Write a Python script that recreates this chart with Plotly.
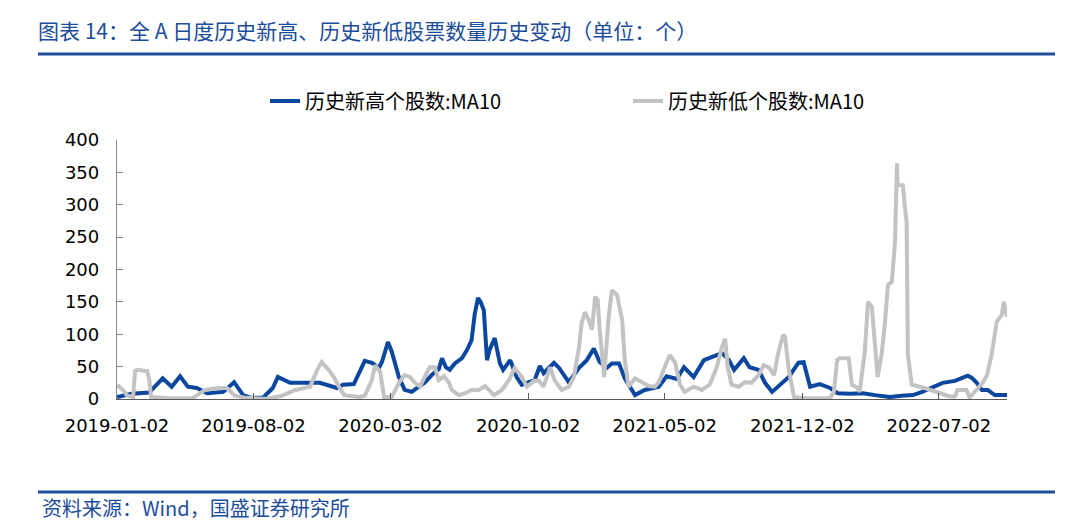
import plotly.graph_objects as go

# ---- data ----
high_dates = [
    "2019-01-02", "2019-01-25", "2019-02-21", "2019-03-14", "2019-03-28", "2019-04-10",
    "2019-04-22", "2019-05-06", "2019-05-22", "2019-06-16", "2019-07-03", "2019-07-17",
    "2019-07-28", "2019-08-17", "2019-09-01", "2019-09-09", "2019-09-28", "2019-10-24",
    "2019-11-13", "2019-12-10", "2019-12-19", "2020-01-05", "2020-01-22", "2020-02-02",
    "2020-02-13", "2020-02-18", "2020-02-27", "2020-03-04", "2020-03-15", "2020-03-24",
    "2020-04-04", "2020-04-15", "2020-04-24", "2020-05-05", "2020-05-16", "2020-05-21",
    "2020-05-27", "2020-06-02", "2020-06-10", "2020-06-21", "2020-06-29", "2020-07-06",
    "2020-07-11", "2020-07-16", "2020-07-20", "2020-07-25", "2020-07-30", "2020-08-03",
    "2020-08-11", "2020-08-19", "2020-08-24", "2020-09-04", "2020-09-14", "2020-09-22",
    "2020-10-05", "2020-10-12", "2020-10-20", "2020-10-26", "2020-11-11", "2020-11-19",
    "2020-12-04", "2020-12-20", "2021-01-01", "2021-01-12", "2021-01-21", "2021-02-01",
    "2021-02-09", "2021-02-20", "2021-03-01", "2021-03-17", "2021-04-01", "2021-04-17",
    "2021-04-23", "2021-05-05", "2021-05-21", "2021-06-01", "2021-06-16", "2021-07-02",
    "2021-07-14", "2021-07-30", "2021-08-10", "2021-08-18", "2021-09-02", "2021-09-11",
    "2021-09-25", "2021-10-05", "2021-10-16", "2021-10-28", "2021-11-11", "2021-11-26",
    "2021-12-04", "2021-12-14", "2021-12-29", "2022-01-14", "2022-01-26", "2022-02-14",
    "2022-03-06", "2022-03-25", "2022-04-17", "2022-05-05", "2022-05-23", "2022-06-06",
    "2022-06-26", "2022-07-08", "2022-07-27", "2022-08-16", "2022-08-22", "2022-08-30",
    "2022-09-07", "2022-09-16", "2022-09-27", "2022-10-16",
]
high_values = [
    3, 8, 10, 32, 19, 35,
    19, 17, 9, 11, 26, 6,
    2, 2, 17, 34, 25, 25,
    25, 17, 22, 23, 59, 56,
    48, 58, 88, 73, 34, 14,
    11, 19, 25, 37, 46, 63,
    49, 45, 55, 63, 76, 91,
    132, 156, 150, 137, 60, 76,
    94, 55, 45, 60, 34, 22,
    26, 29, 51, 40, 56, 48,
    26, 48, 60, 78, 57, 48,
    55, 55, 32, 6, 14, 17,
    19, 35, 31, 49, 34, 60,
    65, 71, 60, 45, 63, 49,
    45, 25, 11, 22, 34, 56,
    57, 19, 23, 17, 9, 8,
    9, 6, 3, 5, 6, 11,
    19, 25, 28, 36, 33, 25,
    14, 14, 6, 6,
]

low_dates = [
    "2019-01-02", "2019-01-11", "2019-01-18", "2019-01-27", "2019-01-30", "2019-02-02",
    "2019-02-18", "2019-02-21", "2019-02-24", "2019-03-25", "2019-04-29", "2019-05-19",
    "2019-06-09", "2019-06-22", "2019-07-04", "2019-07-20", "2019-08-23", "2019-09-15",
    "2019-10-06", "2019-10-29", "2019-11-09", "2019-11-16", "2019-11-27", "2019-12-05",
    "2019-12-13", "2019-12-21", "2020-01-13", "2020-01-22", "2020-02-02", "2020-02-07",
    "2020-02-15", "2020-02-21", "2020-03-04", "2020-03-15", "2020-03-24", "2020-04-01",
    "2020-04-09", "2020-04-17", "2020-04-24", "2020-05-02", "2020-05-10", "2020-05-16",
    "2020-05-24", "2020-06-01", "2020-06-05", "2020-06-16", "2020-06-26", "2020-07-06",
    "2020-07-17", "2020-07-27", "2020-08-10", "2020-08-22", "2020-09-02", "2020-09-11",
    "2020-09-22", "2020-09-30", "2020-10-11", "2020-10-19", "2020-10-26", "2020-11-05",
    "2020-11-12", "2020-11-23", "2020-12-04", "2020-12-12", "2020-12-20", "2020-12-24",
    "2020-12-29", "2021-01-04", "2021-01-09", "2021-01-14", "2021-01-18", "2021-01-21",
    "2021-01-28", "2021-02-04", "2021-02-09", "2021-02-17", "2021-02-25", "2021-03-01",
    "2021-03-07", "2021-03-17", "2021-03-28", "2021-04-07", "2021-04-17", "2021-04-23",
    "2021-05-02", "2021-05-10", "2021-05-18", "2021-05-26", "2021-06-02", "2021-06-16",
    "2021-06-29", "2021-07-11", "2021-07-22", "2021-07-30", "2021-08-04", "2021-08-08",
    "2021-08-14", "2021-08-25", "2021-09-04", "2021-09-14", "2021-09-25", "2021-10-03",
    "2021-10-11", "2021-10-19", "2021-10-26", "2021-11-02", "2021-11-05", "2021-11-11",
    "2021-11-19", "2021-12-06", "2022-01-14", "2022-01-20", "2022-01-25", "2022-01-29",
    "2022-02-12", "2022-02-17", "2022-02-26", "2022-03-01", "2022-03-09", "2022-03-14",
    "2022-03-20", "2022-03-25", "2022-03-29", "2022-04-04", "2022-04-09", "2022-04-14",
    "2022-04-20", "2022-04-25", "2022-04-28", "2022-04-29", "2022-05-07", "2022-05-10",
    "2022-05-13", "2022-05-15", "2022-05-21", "2022-06-10", "2022-06-30", "2022-07-19",
    "2022-07-27", "2022-07-31", "2022-08-14", "2022-08-19", "2022-09-01", "2022-09-08",
    "2022-09-15", "2022-09-22", "2022-09-30", "2022-10-08", "2022-10-11", "2022-10-16",
]
low_values = [
    22, 14, 5, 3, 43, 45,
    43, 30, 3, 1, 1, 14,
    17, 17, 5, 2, 0, 5,
    14, 19, 45, 57, 45, 34,
    19, 6, 3, 5, 29, 52,
    42, 3, 3, 25, 37, 34,
    25, 19, 34, 49, 49, 29,
    35, 25, 14, 6, 9, 14,
    14, 20, 6, 14, 29, 48,
    34, 19, 28, 28, 19, 49,
    29, 14, 19, 34, 80, 117,
    134, 122, 107, 158, 153, 107,
    34, 127, 168, 161, 122, 60,
    19, 32, 26, 20, 19, 26,
    49, 68, 57, 22, 11, 19,
    14, 22, 49, 80, 93, 49,
    22, 19, 26, 25, 37, 52,
    49, 37, 73, 99, 96, 45,
    3, 1, 1, 11, 60, 63,
    63, 22, 17, 11, 73, 150,
    142, 80, 34, 68, 114, 176,
    181, 242, 364, 330, 330, 300,
    273, 68, 22, 17, 11, 4,
    4, 14, 14, 2, 17, 25,
    37, 68, 119, 130, 150, 127,
]

tick_dates = ["2019-01-02", "2019-08-02", "2020-03-02", "2020-10-02",
              "2021-05-02", "2021-12-02", "2022-07-02"]
y_ticks = [0, 50, 100, 150, 200, 250, 300, 350, 400]

series_names = ["历史新高个股数:MA10", "历史新低个股数:MA10"]
title_text = "图表 14：全 A 日度历史新高、历史新低股票数量历史变动（单位：个）"
source_text = "资料来源：Wind，国盛证券研究所"

# ---- styling ----
BLUE = "#0B479E"
GRAY = "#C3C3C3"
THEME = "#1C4D9B"
FONT = "DejaVu Sans, Noto Sans CJK SC, sans-serif"
CJK = "Noto Sans CJK SC, DejaVu Sans, sans-serif"

OFF = 8                      # page body margin of the html page
W, H = 1080 - 2 * OFF, 531 - 2 * OFF
# plot area in screen pixels: x 117..1007, y 140..399
L, T = 117 - OFF, 140 - OFF
R = W - (1007 - OFF)
B = H - (399 - OFF)
pw, ph = W - L - R, H - T - B


def px_x(x):
    return (x - OFF - L) / pw


def px_y(y):
    return (H - B - (y - OFF)) / ph


fig = go.Figure()
fig.add_trace(go.Scatter(x=high_dates, y=high_values, mode="lines",
                         name=series_names[0],
                         line=dict(color=BLUE, width=4)))
fig.add_trace(go.Scatter(x=low_dates, y=low_values, mode="lines",
                         name=series_names[1],
                         line=dict(color=GRAY, width=4)))

fig.update_layout(
    width=W, height=H,
    margin=dict(l=L, r=R, t=T, b=B, autoexpand=False),
    paper_bgcolor="white", plot_bgcolor="white",
    font=dict(family=FONT, size=18, color="#000000"),
    title=dict(text=title_text, xref="container", yref="container",
               x=(38 - OFF) / W, y=1 - (32 - OFF) / H,
               xanchor="left", yanchor="middle",
               font=dict(family=CJK, size=21, color=THEME)),
    legend=dict(orientation="h", x=px_x(265), y=px_y(101),
                xanchor="left", yanchor="middle",
                font=dict(family=CJK, size=20, color="#000000"),
                entrywidth=318, entrywidthmode="pixels",
                bgcolor="rgba(0,0,0,0)"),
    showlegend=True,
)

fig.update_xaxes(
    type="date", range=["2019-01-02", "2022-10-16"],
    tickvals=tick_dates, ticktext=tick_dates,
    ticks="inside", ticklen=6, tickcolor="#595959",
    showline=True, linecolor="#595959", linewidth=1.3,
    showgrid=False, zeroline=False, ticklabelstandoff=10,
    tickfont=dict(family=FONT, size=18, color="#000000"),
)
fig.update_yaxes(
    range=[0, 400], tickvals=y_ticks,
    ticks="inside", ticklen=6, tickcolor="#888888",
    showline=True, linecolor="#888888", linewidth=1.3,
    showgrid=False, zeroline=False, ticklabelstandoff=13,
    tickfont=dict(family=FONT, size=18, color="#000000"),
)

# rule lines and source note
fig.add_shape(type="line", xref="paper", yref="paper",
              x0=px_x(38), x1=px_x(1055), y0=px_y(54), y1=px_y(54),
              line=dict(color=THEME, width=3))
fig.add_shape(type="line", xref="paper", yref="paper",
              x0=px_x(38), x1=px_x(1055), y0=px_y(492), y1=px_y(492),
              line=dict(color=THEME, width=3))
fig.add_annotation(text=source_text, xref="paper", yref="paper",
                   x=px_x(40), y=px_y(507), xanchor="left", yanchor="middle",
                   showarrow=False,
                   font=dict(family=CJK, size=20, color=THEME))

fig.write_html("out.html")
